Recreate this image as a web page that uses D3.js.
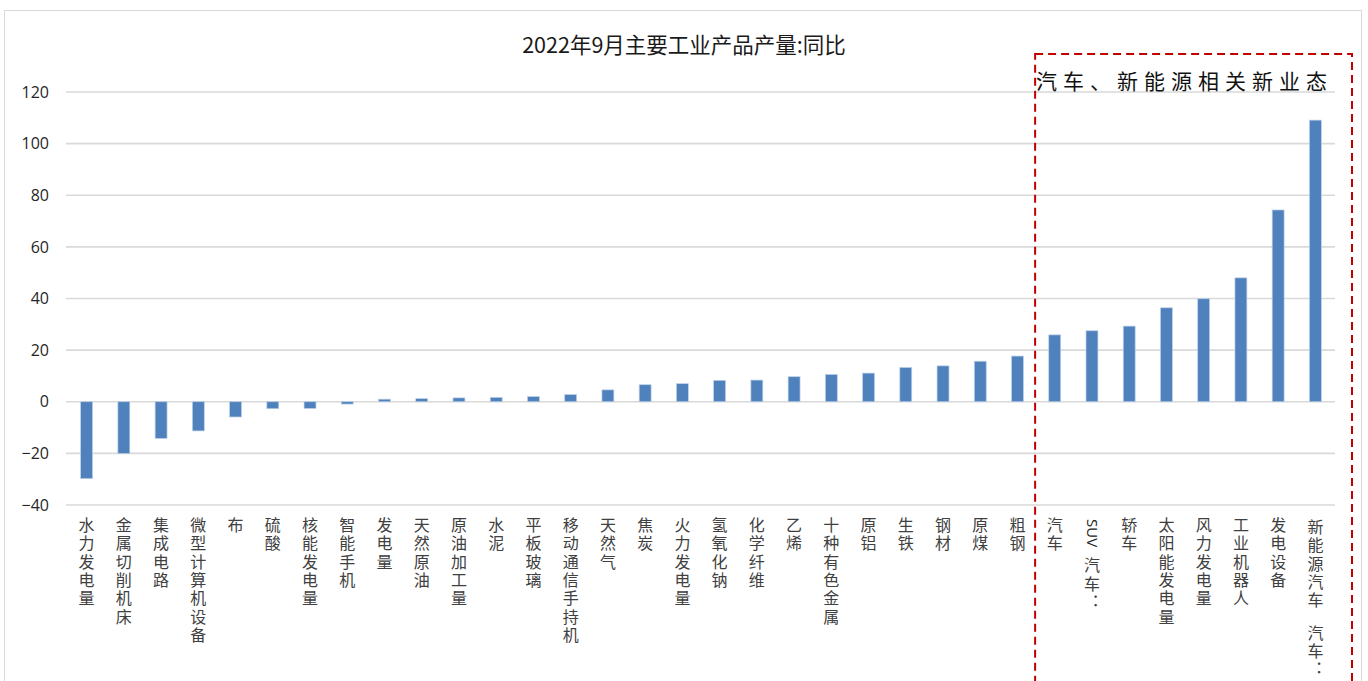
<!DOCTYPE html>
<html lang="zh">
<head>
<meta charset="utf-8">
<title>2022年9月主要工业产品产量:同比</title>
<script src="https://d3js.org/d3.v7.min.js"></script>
<style>
  body { margin: 0; background: #fff; }
  svg { display: block; }
</style>
</head>
<body>
<svg width="1368" height="681"></svg>
<script>
// data (year-on-year %, Sept 2022)
const categories = ["水力发电量", "金属切削机床", "集成电路", "微型计算机设备", "布", "硫酸",
  "核能发电量", "智能手机", "发电量", "天然原油", "原油加工量", "水泥", "平板玻璃",
  "移动通信手持机", "天然气", "焦炭", "火力发电量", "氢氧化钠", "化学纤维", "乙烯",
  "十种有色金属", "原铝", "生铁", "钢材", "原煤", "粗钢", "汽车", "汽车：SUV", "轿车",
  "太阳能发电量", "风力发电量", "工业机器人", "发电设备", "汽车：新能源汽车"];
const values = [-29.8, -20.1, -14.2, -11.3, -5.9, -2.7, -2.6, -0.9, 1.0, 1.2, 1.5, 1.7, 2.0,
  2.8, 4.6, 6.6, 7.0, 8.3, 8.4, 9.7, 10.6, 11.1, 13.3, 13.9, 15.7, 17.7, 25.9, 27.5, 29.3,
  36.4, 39.9, 48.0, 74.3, 109.1];
const yTicks = [-40, -20, 0, 20, 40, 60, 80, 100, 120];
const title = "2022年9月主要工业产品产量:同比";
const highlightLabel = "汽车、新能源相关新业态";
const highlightFrom = "汽车";

const svg = d3.select("svg");
const cjk = "'Noto Sans CJK SC', 'Noto Sans', sans-serif";

// chart frame
svg.append("rect")
  .attr("x", 4.5).attr("y", 10.5)
  .attr("width", 1357).attr("height", 700)
  .attr("fill", "none").attr("stroke", "#d9d9d9").attr("stroke-width", 1);

const x = d3.scaleBand()
  .domain(categories)
  .range([68, 1334])
  .paddingInner(0.68)
  .paddingOuter(0.34);

const y = d3.scaleLinear()
  .domain([-40, 120])
  .range([505, 92]);

// gridlines
svg.append("g")
  .selectAll("line")
  .data(yTicks)
  .enter()
  .append("line")
  .attr("x1", 66).attr("x2", 1335)
  .attr("y1", d => y(d)).attr("y2", d => y(d))
  .attr("stroke", "#d9d9d9")
  .attr("stroke-width", 1.6);

// y labels
const yAxis = d3.axisLeft(y).tickValues(yTicks).tickSize(0).tickPadding(0);
svg.append("g")
  .attr("transform", "translate(49,0)")
  .call(yAxis)
  .call(g => g.select(".domain").remove())
  .selectAll("text")
  .attr("font-family", "'Open Sans', sans-serif")
  .attr("font-size", 16)
  .attr("fill", "#262626");

// bars
svg.append("g")
  .selectAll("rect")
  .data(values)
  .enter()
  .append("rect")
  .attr("x", (d, i) => x(categories[i]))
  .attr("width", x.bandwidth())
  .attr("y", d => Math.min(y(d), y(0)))
  .attr("height", d => Math.abs(y(d) - y(0)))
  .attr("fill", "#4f81bd")
  .attr("stroke", "#bcd0e8")
  .attr("stroke-width", 0.7);

// vertical category labels
const labels = svg.append("g")
  .attr("font-family", cjk)
  .attr("font-size", 16)
  .attr("fill", "#404040");

const isLatin = t => /^[A-Za-z0-9]+$/.test(t);

categories.forEach(c => {
  const cx = x(c) + x.bandwidth() / 2;
  const top = 517;
  const vert = (t, yy) => {
    if (isLatin(t)) {
      // latin runs lie on their side, reading downwards
      return labels.append("text")
        .attr("transform", `translate(${cx},${yy}) rotate(90)`)
        .attr("dy", "0.35em")
        .attr("font-family", "'Open Sans', sans-serif")
        .attr("font-size", 15)
        .attr("fill", "#222")
        .text(t);
    }
    return labels.append("text")
      .attr("x", cx)
      .attr("y", yy)
      .style("writing-mode", "vertical-rl")
      .style("letter-spacing", "2.3px")
      .text(t);
  };
  if (c.includes("：")) {
    // wrapped label: second line stacked above the first, like the source
    const k = c.indexOf("：") + 1;
    const rest = c.slice(k);
    const second = vert(rest, top + 2);
    const b = second.node().getBBox();
    const h = isLatin(rest) ? b.width : b.height;
    vert(c.slice(0, k), top + h + (isLatin(rest) ? 12 : 16));
  } else {
    vert(c, top);
  }
});

// title
svg.append("text")
  .attr("x", 684)
  .attr("y", 53)
  .attr("text-anchor", "middle")
  .attr("font-family", cjk)
  .attr("font-size", 21.5)
  .attr("fill", "#1a1a1a")
  .text(title);

// highlight box around the auto / new-energy group
const bx0 = x(highlightFrom) + x.bandwidth() / 2 - x.step() / 2 - 1;
svg.append("rect")
  .attr("x", bx0)
  .attr("y", 54)
  .attr("width", 1352 - bx0)
  .attr("height", 700)
  .attr("fill", "none")
  .attr("stroke", "#c00000")
  .attr("stroke-width", 2)
  .attr("stroke-dasharray", "8,5");

svg.append("text")
  .attr("x", bx0 + 1)
  .attr("y", 89)
  .attr("font-family", cjk)
  .attr("font-size", 21)
  .attr("letter-spacing", "6px")
  .attr("fill", "#111")
  .text(highlightLabel);
</script>
</body>
</html>
